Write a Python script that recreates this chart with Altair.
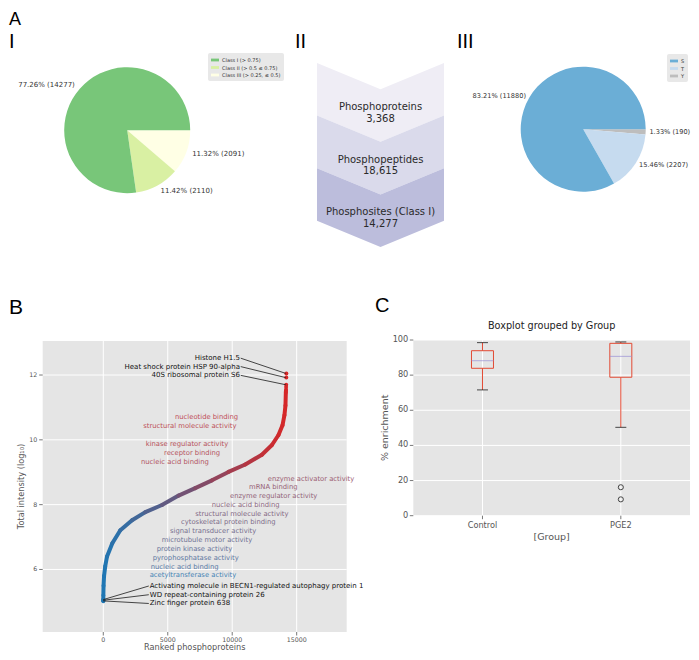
import math
import pandas as pd
import altair as alt

FONT = "DejaVu Sans"
LETTER_FONT = "Liberation Sans"
INK = "#333333"
GREY = "#555555"
PANEL_BG = "#E5E5E5"

W, H = 683, 644

# ---------------- Panel A-I : localisation classes ----------------
class_names = ["Class I (> 0.75)", "Class II (> 0.5 \u2264 0.75)", "Class III (> 0.25, \u2264 0.5)"]
class_counts = [14277, 2110, 2091]
class_colors = ["#78c679", "#d9f0a3", "#ffffe5"]

# ---------------- Panel A-II : funnel ----------------
funnel_names = ["Phosphoproteins", "Phosphopeptides", "Phosphosites (Class I)"]
funnel_counts = [3368, 18615, 14277]
funnel_colors = ["#efedf5", "#dadaeb", "#bcbddc"]

# ---------------- Panel A-III : residues ----------------
residue_names = ["S", "T", "Y"]
residue_counts = [11880, 2207, 190]
residue_colors = ["#6baed6", "#c6dbef", "#bdbdbd"]

# ---------------- Panel B : ranked intensities ----------------
b_rank = [0, 5, 20, 60, 150, 290, 700, 1320, 2230, 3260, 4550, 5840, 7130, 8430,
          9710, 11010, 12300, 13080, 13590, 13900, 14050, 14130, 14160, 14175]
b_intensity = [5.04, 5.2, 5.5, 5.8, 6.1, 6.40, 6.81, 7.21, 7.52, 7.77, 7.99, 8.28, 8.51, 8.75,
               9.01, 9.24, 9.54, 9.84, 10.15, 10.45, 10.76, 11.06, 11.47, 11.55]
b_top_rank = [14180, 14188, 14195, 14200]
b_top_value = [11.63, 11.70, 11.92, 12.05]
b_low_rank = [0, 0, 0]
b_low_value = [5.02, 5.05, 5.08]

prot_top = ["Histone H1.5", "Heat shock protein HSP 90-alpha", "40S ribosomal protein S6"]
prot_top_label_y = [12.52, 12.26, 11.99]
prot_top_point_y = [12.05, 11.92, 11.70]
prot_top_label_x = 10600
prot_top_point_x = 14150

prot_low = ["Activating molecule in BECN1-regulated autophagy protein 1",
            "WD repeat-containing protein 26", "Zinc finger protein 638"]
prot_low_label_y = [5.49, 5.22, 4.95]
prot_low_point_y = [5.07, 5.05, 5.03]
prot_low_label_x = 3600
prot_low_point_x = 0

go_terms = ["nucleotide binding", "structural molecule activity", "kinase regulator activity",
            "receptor binding", "nucleic acid binding", "enzyme activator activity", "mRNA binding",
            "enzyme regulator activity", "nucleic acid binding", "structural molecule activity",
            "cytoskeletal protein binding", "signal transducer activity", "microtubule motor activity",
            "protein kinase activity", "pyrophosphatase activity", "nucleic acid binding",
            "acetyltransferase activity"]
go_x = [5562, 3103, 3289, 4709, 2925, 12754, 11303, 9829, 8410, 7137, 6028, 5175, 4531,
        4143, 3832, 3677, 3600]
go_y = [10.69, 10.43, 9.88, 9.60, 9.33, 8.78, 8.53, 8.26, 7.99, 7.72, 7.46, 7.19, 6.91,
        6.64, 6.36, 6.09, 5.82]
go_rank_colour = [12060, 11780, 11350, 11070, 10780, 8800, 8230, 7800, 7100, 6530, 5960,
                  5390, 4540, 3830, 3120, 2410, 700]

b_xticks = [0, 5000, 10000, 15000]
b_yticks = [6, 8, 10, 12]
b_xdomain = [-4700, 18880]
b_ydomain = [4.07, 13.05]
b_colour_domain = [0, 14200]
b_xtitle = "Ranked phosphoproteins"
b_ytitle = "Total intensity (log\u2081\u2080)"

# ---------------- Panel C : boxplot ----------------
groups = ["Control", "PGE2"]
box_q1 = [83.9, 78.8]
box_q3 = [93.9, 98.1]
box_median = [88.2, 90.7]
whisker_low = [71.6, 50.3]
whisker_high = [98.5, 98.9]
outlier_group = ["PGE2", "PGE2"]
outlier_value = [16.2, 9.3]
c_yticks = [0, 20, 40, 60, 80, 100]
c_ydomain = [0, 100]
c_title = "Boxplot grouped by Group"
c_xtitle = "[Group]"
c_ytitle = "% enrichment"

# ---------------- layout (pixels inside the chart) ----------------
PIE1_CX, PIE1_CY, PIE1_R = 119.2, 122.2, 63
PIE3_CX, PIE3_CY, PIE3_R = 575.2, 121.2, 62.5
FUN_X = [309, 436]
FUN_Y = [55, 239]
B_L, B_R, B_T, B_B = 34.7, 338.7, 333, 624
C_L, C_R, C_T, C_B = 405.3, 682, 332, 507.7
TICK = 3.5


def pie_frame(names, counts, order):
    total = sum(counts)
    rows, cum = [], 0
    for i in order:
        start = cum
        cum += counts[i]
        mid = (start + cum) / 2
        ang = math.pi / 2 + 2 * math.pi * mid / total
        rows.append({"name": names[i], "start": start, "end": cum, "mid": mid,
                     "label": f"{100 * counts[i] / total:.2f}% ({counts[i]})",
                     "right": bool(math.sin(ang) >= 0)})
    return pd.DataFrame(rows), total


def pie_chart(names, counts, colors, order, cx, cy, r, lx, ly, label_r, label_size):
    df, total = pie_frame(names, counts, order)
    tscale = alt.Scale(domain=[0, total], range=[math.pi / 2, 5 * math.pi / 2])
    legend = alt.Legend(title=None, orient="none", legendX=lx, legendY=ly,
                        fillColor="#E8E8E8", padding=3, cornerRadius=2,
                        labelFont=FONT, labelFontSize=5, labelColor=INK,
                        symbolType="M-1,-0.35H1V0.35H-1Z", symbolSize=64,
                        symbolStrokeWidth=0, rowPadding=0.5, labelOffset=3)
    base = alt.Chart(df)
    arcs = base.mark_arc(outerRadius=r).encode(
        theta=alt.Theta("start:Q", scale=tscale, stack=None),
        theta2="end:Q",
        color=alt.Color("name:N", scale=alt.Scale(domain=names, range=colors), legend=legend),
        x=alt.value(cx), y=alt.value(cy),
    )
    lab_r = base.transform_filter("datum.right").mark_text(
        radius=label_r, align="left", baseline="middle", font=FONT, fontSize=label_size, color=INK
    ).encode(theta=alt.Theta("mid:Q", scale=tscale, stack=None), text="label:N",
             x=alt.value(cx), y=alt.value(cy))
    lab_l = base.transform_filter("!datum.right").mark_text(
        radius=label_r, align="right", baseline="middle", font=FONT, fontSize=label_size, color=INK
    ).encode(theta=alt.Theta("mid:Q", scale=tscale, stack=None), text="label:N",
             x=alt.value(cx), y=alt.value(cy))
    return alt.layer(arcs, lab_r, lab_l)


pie1 = pie_chart(class_names, class_counts, class_colors, [2, 1, 0],
                 PIE1_CX, PIE1_CY, PIE1_R, 200, 45, PIE1_R * 1.1, 7)
pie3 = pie_chart(residue_names, residue_counts, residue_colors, [2, 1, 0],
                 PIE3_CX, PIE3_CY, PIE3_R, 659, 46, PIE3_R * 1.06, 6.6)

# ---------------- funnel ----------------
frows, trows = [], []
for i, (n, c) in enumerate(zip(funnel_names, funnel_counts)):
    for bx_, dip in [(0, 0), (0.5, 0.5), (1, 0)]:
        frows.append({"block": n, "bx": bx_, "top": i + dip, "bot": i + 1 + dip})
    trows.append({"tx": 0.5, "ty": i + 0.84, "label": f"{n}\n{c:,}"})
fdf = pd.DataFrame(frows)
tdf = pd.DataFrame(trows)
fxs = alt.Scale(domain=[0, 1], range=FUN_X, nice=False, zero=False)
fys = alt.Scale(domain=[0, 3.5], range=FUN_Y, nice=False, zero=False)
f_area = alt.Chart(fdf).mark_area(interpolate="linear").encode(
    x=alt.X("bx:Q", scale=fxs, axis=None),
    y=alt.Y("top:Q", scale=fys, axis=None, stack=None),
    y2="bot:Q",
    color=alt.Color("block:N", scale=alt.Scale(domain=funnel_names, range=funnel_colors), legend=None),
)
f_text = alt.Chart(tdf).mark_text(font=FONT, fontSize=10, color="#2a2a2a", lineBreak="\n",
                                  lineHeight=11.6, baseline="middle").encode(
    x=alt.X("tx:Q", scale=fxs, axis=None),
    y=alt.Y("ty:Q", scale=fys, axis=None),
    text="label:N",
)
funnel = alt.layer(f_area, f_text)

# ---------------- panel B ----------------
bxs = alt.Scale(domain=b_xdomain, range=[B_L, B_R], nice=False, zero=False)
bys = alt.Scale(domain=b_ydomain, range=[B_B, B_T], nice=False, zero=False)
bcs = alt.Scale(domain=b_colour_domain, range=["#1f77b4", "#d62728"], interpolate="rgb")


def bx(field):
    return alt.X(field, scale=bxs, axis=None)


def by(field):
    return alt.Y(field, scale=bys, axis=None)


b_bg = alt.Chart(pd.DataFrame({"x0": [b_xdomain[0]], "x1": [b_xdomain[1]],
                               "y0": [b_ydomain[0]], "y1": [b_ydomain[1]]})).mark_rect(
    color=PANEL_BG).encode(x=bx("x0:Q"), x2="x1:Q", y=by("y0:Q"), y2="y1:Q")
bxt = pd.DataFrame({"t": b_xticks, "lab": [str(t) for t in b_xticks],
                    "y0": b_ydomain[0], "y1": b_ydomain[1]})
byt = pd.DataFrame({"t": b_yticks, "lab": [str(t) for t in b_yticks],
                    "x0": b_xdomain[0], "x1": b_xdomain[1]})
b_vgrid = alt.Chart(bxt).mark_rule(color="white", strokeWidth=1).encode(
    x=bx("t:Q"), y=by("y0:Q"), y2="y1:Q")
b_hgrid = alt.Chart(byt).mark_rule(color="white", strokeWidth=1).encode(
    y=by("t:Q"), x=bx("x0:Q"), x2="x1:Q")
b_xtick = alt.Chart(bxt).mark_rule(color=GREY, strokeWidth=0.8).encode(
    x=bx("t:Q"), y=alt.value(B_B), y2=alt.value(B_B + TICK))
b_xlab = alt.Chart(bxt).mark_text(font=FONT, fontSize=6.3, color=GREY, baseline="middle").encode(
    x=bx("t:Q"), y=alt.value(B_B + 8), text="lab:N")
b_ytick = alt.Chart(byt).mark_rule(color=GREY, strokeWidth=0.8).encode(
    y=by("t:Q"), x=alt.value(B_L - TICK), x2=alt.value(B_L))
b_ylab = alt.Chart(byt).mark_text(font=FONT, fontSize=6.3, color=GREY, baseline="middle",
                                  align="right").encode(
    y=by("t:Q"), x=alt.value(B_L - 5.5), text="lab:N")
b_titles = alt.layer(
    alt.Chart(pd.DataFrame({"t": [b_xtitle]})).mark_text(
        font=FONT, fontSize=8.2, color=GREY, baseline="middle").encode(
        text="t:N", x=alt.value((B_L + B_R) / 2), y=alt.value(B_B + 15.5)),
    alt.Chart(pd.DataFrame({"t": [b_ytitle]})).mark_text(
        font=FONT, fontSize=8.2, color=GREY, baseline="middle", angle=270).encode(
        text="t:N", x=alt.value(14), y=alt.value((B_T + B_B) / 2)),
)

seg_df = pd.DataFrame({
    "x": b_rank[:-1], "y": b_intensity[:-1], "x2": b_rank[1:], "y2": b_intensity[1:],
    "c": [(a + b) / 2 for a, b in zip(b_rank[:-1], b_rank[1:])],
})
b_curve = alt.Chart(seg_df).mark_rule(strokeWidth=4, strokeCap="round").encode(
    x=bx("x:Q"), x2="x2:Q", y=by("y:Q"), y2="y2:Q",
    color=alt.Color("c:Q", scale=bcs, legend=None),
)
pts_df = pd.DataFrame({"x": b_top_rank + b_low_rank, "y": b_top_value + b_low_value})
b_pts = alt.Chart(pts_df).mark_circle(size=16, opacity=1).encode(
    x=bx("x:Q"), y=by("y:Q"), color=alt.Color("x:Q", scale=bcs, legend=None),
)
conn_df = pd.DataFrame({
    "x": [prot_top_label_x + 60] * 3 + [prot_low_label_x - 70] * 3,
    "y": prot_top_label_y + prot_low_label_y,
    "x2": [prot_top_point_x] * 3 + [prot_low_point_x] * 3,
    "y2": prot_top_point_y + prot_low_point_y,
})
b_conn = alt.Chart(conn_df).mark_rule(color="#1a1a1a", strokeWidth=0.8).encode(
    x=bx("x:Q"), x2="x2:Q", y=by("y:Q"), y2="y2:Q",
)
b_top_txt = alt.Chart(pd.DataFrame({"name": prot_top, "x": prot_top_label_x, "y": prot_top_label_y})).mark_text(
    align="right", baseline="middle", font=FONT, fontSize=7, color="#111111").encode(
    x=bx("x:Q"), y=by("y:Q"), text="name:N")
b_low_txt = alt.Chart(pd.DataFrame({"name": prot_low, "x": prot_low_label_x, "y": prot_low_label_y})).mark_text(
    align="left", baseline="middle", font=FONT, fontSize=7, color="#111111").encode(
    x=bx("x:Q"), y=by("y:Q"), text="name:N")
b_go = alt.Chart(pd.DataFrame({"term": go_terms, "x": go_x, "y": go_y, "cv": go_rank_colour})).mark_text(
    align="left", baseline="middle", font=FONT, fontSize=6.8, opacity=0.85).encode(
    x=bx("x:Q"), y=by("y:Q"), text="term:N",
    color=alt.Color("cv:Q", scale=bcs, legend=None))
panel_b = alt.layer(b_bg, b_vgrid, b_hgrid, b_xtick, b_xlab, b_ytick, b_ylab, b_titles,
                    b_curve, b_pts, b_conn, b_top_txt, b_low_txt, b_go)

# ---------------- panel C ----------------
cxs = alt.Scale(type="point", domain=groups, range=[C_L, C_R], padding=0.5)
cys = alt.Scale(domain=c_ydomain, range=[C_B, C_T], nice=False, zero=False)


def cx(field):
    return alt.X(field, scale=cxs, axis=None)


def cy(field):
    return alt.Y(field, scale=cys, axis=None)


box_df = pd.DataFrame({"group": groups, "q1": box_q1, "q3": box_q3, "med": box_median,
                       "lo": whisker_low, "hi": whisker_high,
                       "y0": c_ydomain[0], "y1": c_ydomain[1]})
cyt = pd.DataFrame({"t": c_yticks, "lab": [str(t) for t in c_yticks]})
c_bg = alt.Chart(pd.DataFrame({"y0": [c_ydomain[0]], "y1": [c_ydomain[1]]})).mark_rect(
    color=PANEL_BG).encode(x=alt.value(C_L), x2=alt.value(C_R), y=cy("y0:Q"), y2="y1:Q")
c_hgrid = alt.Chart(cyt).mark_rule(color="white", strokeWidth=1).encode(
    y=cy("t:Q"), x=alt.value(C_L), x2=alt.value(C_R))
c_vgrid = alt.Chart(box_df).mark_rule(color="white", strokeWidth=1).encode(
    x=cx("group:N"), y=cy("y0:Q"), y2="y1:Q")
c_ytick = alt.Chart(cyt).mark_rule(color=GREY, strokeWidth=0.8).encode(
    y=cy("t:Q"), x=alt.value(C_L - TICK), x2=alt.value(C_L))
c_ylab = alt.Chart(cyt).mark_text(font=FONT, fontSize=8.2, color=GREY, baseline="middle",
                                  align="right").encode(
    y=cy("t:Q"), x=alt.value(C_L - 5), text="lab:N")
c_xtick = alt.Chart(box_df).mark_rule(color=GREY, strokeWidth=0.8).encode(
    x=cx("group:N"), y=alt.value(C_B), y2=alt.value(C_B + TICK))
c_xlab = alt.Chart(box_df).mark_text(font=FONT, fontSize=8.2, color=GREY, baseline="middle").encode(
    x=cx("group:N"), y=alt.value(C_B + 10), text="group:N")
c_titles = alt.layer(
    alt.Chart(pd.DataFrame({"t": [c_xtitle]})).mark_text(
        font=FONT, fontSize=9.5, color=GREY, baseline="middle").encode(
        text="t:N", x=alt.value((C_L + C_R) / 2), y=alt.value(C_B + 21.5)),
    alt.Chart(pd.DataFrame({"t": [c_ytitle]})).mark_text(
        font=FONT, fontSize=9.5, color=GREY, baseline="middle", angle=270).encode(
        text="t:N", x=alt.value(377), y=alt.value((C_T + C_B) / 2)),
    alt.Chart(pd.DataFrame({"t": [c_title]})).mark_text(
        font=FONT, fontSize=9.7, color="#222222", baseline="middle").encode(
        text="t:N", x=alt.value((C_L + C_R) / 2), y=alt.value(317.7)),
)
c_wh_up = alt.Chart(box_df).mark_rule(color="#E24A33", strokeWidth=1).encode(
    x=cx("group:N"), y=cy("q3:Q"), y2="hi:Q")
c_wh_lo = alt.Chart(box_df).mark_rule(color="#E24A33", strokeWidth=1).encode(
    x=cx("group:N"), y=cy("lo:Q"), y2="q1:Q")
c_box = alt.Chart(box_df).mark_bar(width=22, fillOpacity=0, stroke="#E24A33", strokeWidth=1).encode(
    x=cx("group:N"), y=cy("q1:Q"), y2="q3:Q")
c_med = alt.Chart(box_df).mark_tick(size=22, thickness=1, color="#988ED5").encode(
    x=cx("group:N"), y=cy("med:Q"))
c_cap_hi = alt.Chart(box_df).mark_tick(size=11, thickness=1, color="black").encode(
    x=cx("group:N"), y=cy("hi:Q"))
c_cap_lo = alt.Chart(box_df).mark_tick(size=11, thickness=1, color="black").encode(
    x=cx("group:N"), y=cy("lo:Q"))
c_out = alt.Chart(pd.DataFrame({"group": outlier_group, "v": outlier_value})).mark_point(
    shape="circle", filled=False, color="black", size=26, strokeWidth=1).encode(
    x=cx("group:N"), y=cy("v:Q"))
panel_c = alt.layer(c_bg, c_hgrid, c_vgrid, c_ytick, c_ylab, c_xtick, c_xlab, c_titles,
                    c_wh_up, c_wh_lo, c_box, c_med, c_cap_hi, c_cap_lo, c_out)


# ---------------- panel letters ----------------
def letter(t, x, y, size):
    return alt.Chart(pd.DataFrame({"t": [t]})).mark_text(
        font=LETTER_FONT, fontSize=size, color="black", align="left", baseline="alphabetic"
    ).encode(text="t:N", x=alt.value(x), y=alt.value(y))


letters = alt.layer(
    letter("A", 1, 16.8, 18),
    letter("I", 1, 40, 20),
    letter("II", 287, 40, 20),
    letter("III", 449, 40, 20),
    letter("B", 1, 306, 21),
    letter("C", 367, 304, 20),
)

chart = alt.layer(pie1, funnel, pie3, panel_b, panel_c, letters).resolve_scale(
    x="independent", y="independent", color="independent", theta="independent"
).properties(
    width=W, height=H, autosize=alt.AutoSizeParams(type="none"), padding=0
).configure_view(stroke=None)

chart.save("out.html", embed_options={"renderer": "svg", "actions": False})
